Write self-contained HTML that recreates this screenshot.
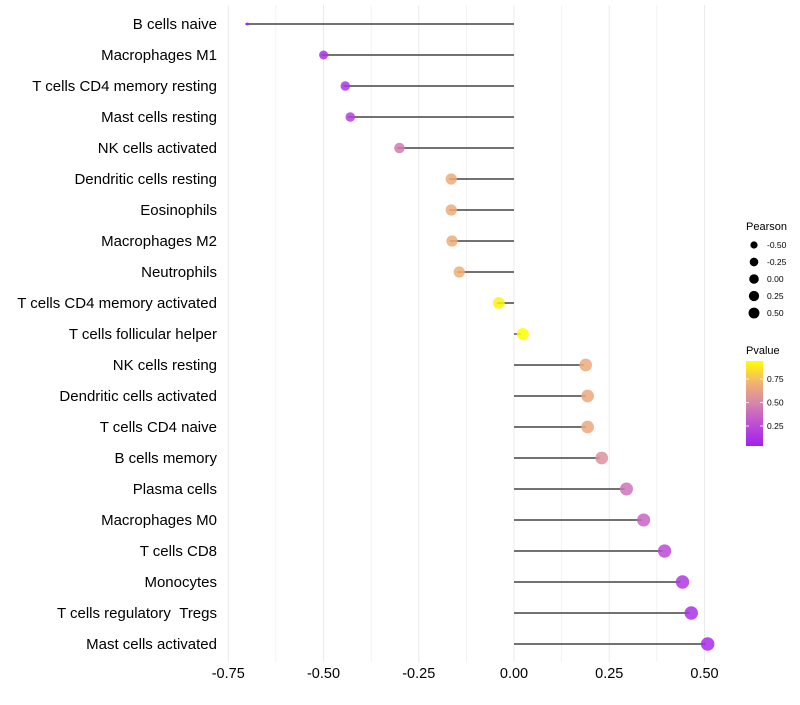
<!DOCTYPE html>
<html><head><meta charset="utf-8"><style>
body{margin:0;background:#fff;font-family:"Liberation Sans",sans-serif}
svg text{font-family:"Liberation Sans",sans-serif}
</style></head><body>
<svg id="chart" width="800" height="700" viewBox="0 0 800 700"></svg>
<script>
const categories=["B cells naive","Macrophages M1","T cells CD4 memory resting","Mast cells resting","NK cells activated","Dendritic cells resting","Eosinophils","Macrophages M2","Neutrophils","T cells CD4 memory activated","T cells follicular helper","NK cells resting","Dendritic cells activated","T cells CD4 naive","B cells memory","Plasma cells","Macrophages M0","T cells CD8","Monocytes","T cells regulatory\u00a0\u00a0Tregs","Mast cells activated"];
const pearson=[-0.705,-0.505,-0.448,-0.435,-0.306,-0.170,-0.170,-0.168,-0.149,-0.045,0.018,0.183,0.188,0.188,0.225,0.29,0.335,0.39,0.437,0.46,0.503];
const pvalues=[0.05,0.12,0.15,0.2,0.45,0.68,0.68,0.68,0.7,0.9,0.94,0.67,0.66,0.66,0.55,0.42,0.36,0.25,0.16,0.12,0.1];
const xTicks=[-0.75,-0.5,-0.25,0,0.25,0.5];
const xTickLabels=["-0.75","-0.50","-0.25","0.00","0.25","0.50"];
const sizeLegend=[-0.5,-0.25,0,0.25,0.5];
const sizeLegendLabels=["-0.50","-0.25","0.00","0.25","0.50"];
const colorTicks=[0.25,0.5,0.75];

const NS="http://www.w3.org/2000/svg";
const svg=document.getElementById('chart');
const x=v=>514+v*381;
const y=i=>24+i*31;
const r=v=>Math.sqrt(2.25+44*Math.sqrt(Math.max(0,(v+0.705)/1.21)));
const stops=[[0.04,[160,32,240]],[0.3,[194,84,208]],[0.5,[214,136,168]],[0.7,[240,176,116]],[0.94,[255,255,0]]];
function col(p){
  if(p<=stops[0][0])return 'rgb('+stops[0][1]+')';
  for(let k=1;k<stops.length;k++){if(p<=stops[k][0]){const a=stops[k-1],b=stops[k],t=(p-a[0])/(b[0]-a[0]);
    return 'rgb('+a[1].map((c,j)=>Math.round(c+(b[1][j]-c)*t)).join(',')+')';}}
  return 'rgb('+stops[stops.length-1][1]+')';
}
function el(tag,attrs,parent){const e=document.createElementNS(NS,tag);for(const k in attrs)e.setAttribute(k,attrs[k]);(parent||svg).appendChild(e);return e;}

// grid
for(let g=-0.75;g<=0.5001;g+=0.125){
  const l=el('line',{x1:x(g),x2:x(g),y1:5,y2:662,stroke:'#ebebeb','stroke-width':Math.abs(g*4-Math.round(g*4))<1e-6?1:0.6});
  
  
}
// ticks
xTicks.forEach((t,i)=>{
  const tx=el('text',{x:x(t),y:678,'text-anchor':'middle','font-size':14.5,fill:'#000'});
  tx.textContent=xTickLabels[i];
  
  
});
categories.forEach((c,i)=>{
  const lb=el('text',{x:217,y:y(i)+5,'text-anchor':'end','font-size':15,fill:'#000'});
  lb.textContent=c;
  
  
  const ln=el('line',{x1:x(0),x2:x(pearson[i]),y1:y(i),y2:y(i),stroke:'#444','stroke-width':1.4});
  
  
  const pt=el('circle',{cx:x(pearson[i])+2,cy:y(i),r:r(pearson[i]),fill:col(pvalues[i]),'fill-opacity':0.85});
  
  
});
// size legend
const st=el('text',{x:746,y:230,'font-size':11,fill:'#000'});st.textContent='Pearson';


sizeLegend.forEach((v,i)=>{
  const cy=245+i*17;
  const c=el('circle',{cx:754,cy:cy,r:r(v)*0.8,fill:'#000'});
  
  
  const t=el('text',{x:767,y:cy+3,'font-size':8.5,fill:'#000'});t.textContent=sizeLegendLabels[i];
  
  
});
// color legend
const ct=el('text',{x:746,y:354,'font-size':11,fill:'#000'});ct.textContent='Pvalue';


const defs=el('defs',{});
const grad=el('linearGradient',{id:'pg',x1:0,y1:1,x2:0,y2:0},defs);
stops.forEach(s=>{el('stop',{offset:((s[0]-0.04)/0.9),'stop-color':'rgb('+s[1]+')'},grad);});
const cb=el('rect',{x:746,y:361,width:17,height:85,fill:'url(#pg)'});


const cy=p=>449.5-p*94;
colorTicks.forEach(p=>{
  el('line',{x1:746,x2:749,y1:cy(p),y2:cy(p),stroke:'#fff','stroke-width':0.8});
  el('line',{x1:760,x2:763,y1:cy(p),y2:cy(p),stroke:'#fff','stroke-width':0.8});
  const t=el('text',{x:767,y:cy(p)+3,'font-size':8.5,fill:'#000'});t.textContent=p.toFixed(2);
  
  
});
</script>
</body></html>
